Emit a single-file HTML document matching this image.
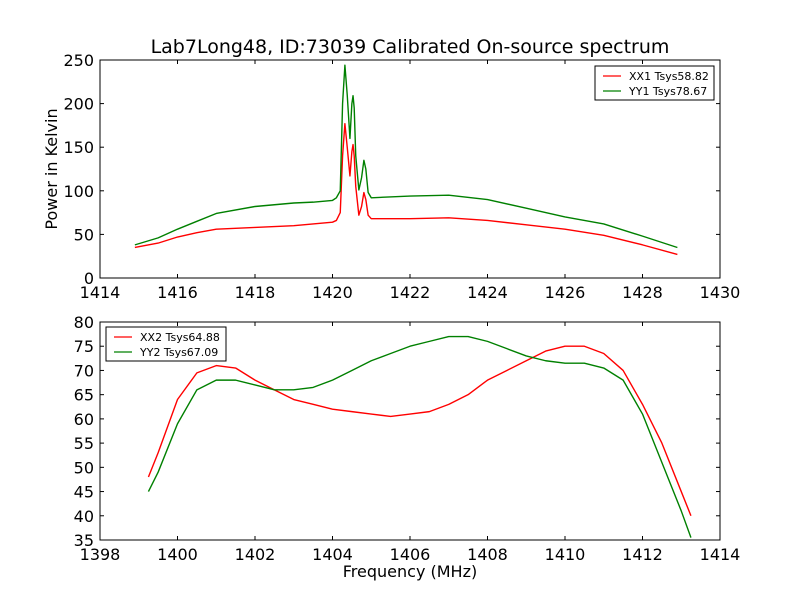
<!DOCTYPE html>
<html><head><meta charset="utf-8"><style>
body{margin:0;background:#fff}
svg{font-family:"DejaVu Sans","Liberation Sans",sans-serif}
</style></head><body>
<svg id="c" width="800" height="600"></svg>
<script>
const topFreq=[1414.9,1415.5,1416,1416.5,1417,1418,1419,1419.5,1420,1420.1,1420.2,1420.26,1420.32,1420.38,1420.45,1420.5,1420.53,1420.56,1420.6,1420.68,1420.75,1420.81,1420.86,1420.92,1421,1422,1423,1424,1425,1426,1427,1428,1428.9];
const xx1=[35,40,47,52,56,58,60,62,64,66,75,140,177,150,117,145,153,140,105,72,82,98,90,72,68,68,69,66,61,56,49,38,27];
const yy1=[38,46,56,65,74,82,86,87,89,92,100,200,244,210,160,200,209,195,140,101,115,135,125,98,92,94,95,90,80,70,62,48,35];
const botFreq=[1399.25,1399.5,1400,1400.5,1401,1401.5,1402,1402.5,1403,1403.5,1404,1404.5,1405,1405.5,1406,1406.5,1407,1407.5,1408,1408.5,1409,1409.5,1410,1410.5,1411,1411.5,1412,1412.5,1413,1413.25];
const xx2=[48,53,64,69.5,71,70.5,68,66,64,63,62,61.5,61,60.5,61,61.5,63,65,68,70,72,74,75,75,73.5,70,63,55,45,40];
const yy2=[45,49,59,66,68,68,67,66,66,66.5,68,70,72,73.5,75,76,77,77,76,74.5,73,72,71.5,71.5,70.5,68,61,51,41,35.5];
const topXTicks=[1414,1416,1418,1420,1422,1424,1426,1428,1430];
const topYTicks=[0,50,100,150,200,250];
const botXTicks=[1398,1400,1402,1404,1406,1408,1410,1412,1414];
const botYTicks=[35,40,45,50,55,60,65,70,75,80];
const svg=document.getElementById('c');const NS='http://www.w3.org/2000/svg';
function mk(t,a,p){const e=document.createElementNS(NS,t);for(const k in a)e.setAttribute(k,a[k]);(p||svg).appendChild(e);return e;}
function panel(name,box,xd,yd,xt,yt,series,leg){
 const sx=v=>box.x+(v-xd[0])/(xd[1]-xd[0])*box.w, sy=v=>box.y+box.h-(v-yd[0])/(yd[1]-yd[0])*box.h;
 const g=mk('g',{});
 series.forEach(s=>{const p=mk('polyline',{points:s.f.map((f,i)=>sx(f)+','+sy(s.v[i])).join(' '),fill:'none',stroke:s.c,'stroke-width':1.4,'stroke-linejoin':'round'},g);
  });
 const r=mk('rect',{x:box.x,y:box.y,width:box.w,height:box.h,fill:'none',stroke:'#000'},g);
 
 xt.forEach(v=>{const x=sx(v);mk('line',{x1:x,x2:x,y1:box.y+box.h,y2:box.y+box.h-4,stroke:'#000'},g);mk('line',{x1:x,x2:x,y1:box.y,y2:box.y+4,stroke:'#000'},g);
  const t=mk('text',{x:x,y:box.y+box.h+20,'text-anchor':'middle','font-size':16},g);t.textContent=v;
  });
 yt.forEach(v=>{const y=sy(v);mk('line',{x1:box.x,x2:box.x+4,y1:y,y2:y,stroke:'#000'},g);mk('line',{x1:box.x+box.w,x2:box.x+box.w-4,y1:y,y2:y,stroke:'#000'},g);
  const t=mk('text',{x:box.x-6,y:y+6,'text-anchor':'end','font-size':16},g);t.textContent=v;
  });
 const lg=mk('g',{},g);
 mk('rect',{x:leg.x,y:leg.y,width:leg.w,height:34,fill:'#fff',stroke:'#000'},lg);
 series.forEach((s,i)=>{const y=leg.y+10+i*15;mk('line',{x1:leg.x+8,x2:leg.x+26,y1:y,y2:y,stroke:s.c,'stroke-width':1.3},lg);
  const t=mk('text',{x:leg.x+34,y:y+4,'font-size':11},lg);t.textContent=s.l;
  });
}
panel('top-plot',{x:100,y:60,w:620,h:218},[1414,1430],[0,250],topXTicks,topYTicks,
 [{f:topFreq,v:xx1,c:'#f00',n:'xx1-line',l:'XX1 Tsys58.82'},{f:topFreq,v:yy1,c:'#008000',n:'yy1-line',l:'YY1 Tsys78.67'}],{x:595,y:66,w:119});
panel('bottom-plot',{x:100,y:322,w:620,h:218},[1398,1414],[35,80],botXTicks,botYTicks,
 [{f:botFreq,v:xx2,c:'#f00',n:'xx2-line',l:'XX2 Tsys64.88'},{f:botFreq,v:yy2,c:'#008000',n:'yy2-line',l:'YY2 Tsys67.09'}],{x:106,y:327,w:120});
let t=mk('text',{x:410,y:53,'text-anchor':'middle','font-size':19});t.textContent='Lab7Long48, ID:73039 Calibrated On-source spectrum';

t=mk('text',{x:57,y:169,'text-anchor':'middle','font-size':16,transform:'rotate(-90 57 169)'});t.textContent='Power in Kelvin';

t=mk('text',{x:410,y:577,'text-anchor':'middle','font-size':16});t.textContent='Frequency (MHz)';

</script></body></html>
